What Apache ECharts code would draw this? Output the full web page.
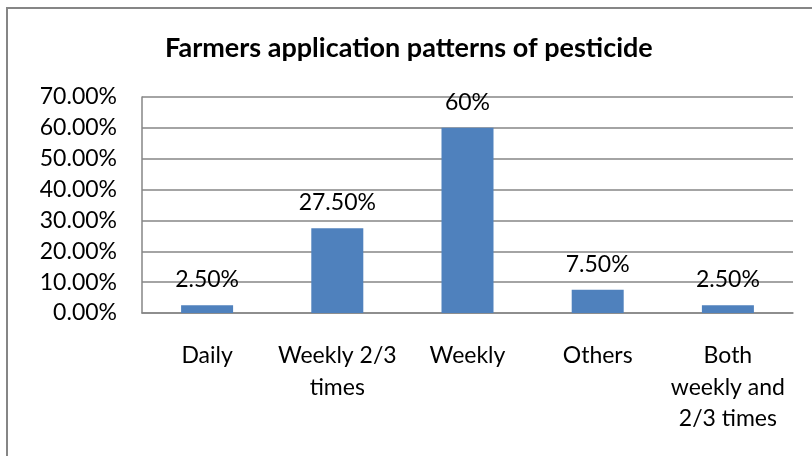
<!DOCTYPE html>
<html style="height: 100%">
<head>
<meta charset="utf-8">
<script src="https://cdn.jsdelivr.net/npm/echarts@6/dist/echarts.min.js"></script>
</head>
<body style="height: 100%; margin: 0; background: #fff">
<div id="container" style="width: 812px; height: 456px"></div>
<script type="text/javascript">
var categories = ['Daily', 'Weekly 2/3\ntimes', 'Weekly', 'Others', 'Both\nweekly and\n2/3 times'];
var values = [2.5, 27.5, 60, 7.5, 2.5];
var valueLabels = ['2.50%', '27.50%', '60%', '7.50%', '2.50%'];

var font = 'Lato';
var myChart = echarts.init(document.getElementById('container'));

var option = {
    animation: false,
    backgroundColor: '#fff',
    title: {
        text: 'Farmers application patterns of pesticide',
        left: 160,
        top: 30,
        textStyle: {fontFamily: font, fontWeight: 'bold', fontSize: 27, color: '#000'}
    },
    graphic: [{
        type: 'rect',
        shape: {x: 7, y: 8, width: 830, height: 470},
        style: {fill: 'none', stroke: '#868686', lineWidth: 2},
        silent: true
    }],
    grid: {left: 142, right: 19, top: 97, bottom: 143},
    xAxis: {
        type: 'category',
        data: categories,
        axisLine: {lineStyle: {color: '#868686', width: 1.5}},
        axisTick: {show: false},
        axisLabel: {
            fontFamily: font, fontSize: 23, color: '#000', margin: 27,
            lineHeight: 31.5, interval: 0
        }
    },
    yAxis: {
        type: 'value',
        min: 0,
        max: 70,
        interval: 10,
        axisLine: {show: true, lineStyle: {color: '#868686', width: 1.5}},
        axisTick: {show: false},
        splitLine: {lineStyle: {color: '#868686', width: 1.5}},
        axisLabel: {
            fontFamily: font, fontSize: 23, color: '#000', margin: 25,
            formatter: function (v) { return v.toFixed(2) + '%'; }
        }
    },
    series: [{
        type: 'bar',
        data: values,
        barWidth: 52,
        itemStyle: {color: '#4F81BD'},
        label: {
            show: true,
            position: 'top',
            distance: 14,
            fontFamily: font, fontSize: 23, color: '#000',
            formatter: function (p) { return valueLabels[p.dataIndex]; }
        }
    }]
};

myChart.setOption(option);
</script>
</body>
</html>
